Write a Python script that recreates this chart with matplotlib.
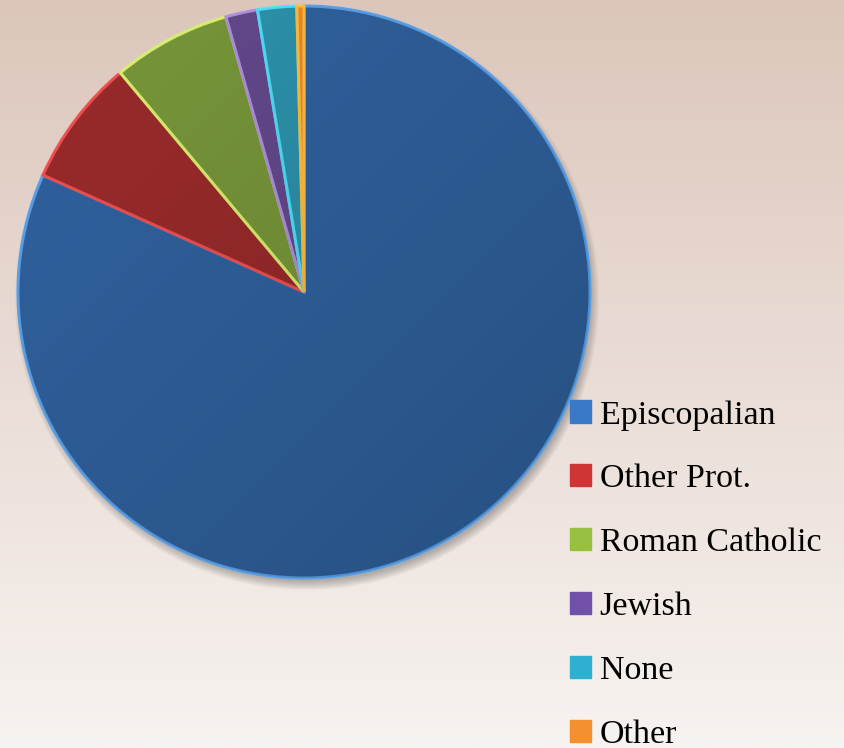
import numpy as np
import matplotlib.pyplot as plt
from matplotlib.patches import Patch, Circle

labels = ["Episcopalian", "Other Prot.", "Roman Catholic", "Jewish", "None", "Other"]
shares = [81.7, 7.2, 6.7, 1.8, 2.2, 0.4]

slice_colors = ["#30629f", "#9a2b2b", "#78973a", "#64498c", "#2d93ad", "#f08a2a"]
edge_colors = ["#5aa0e8", "#f05050", "#d8f070", "#b090e0", "#50e0f8", "#ffc040"]
legend_colors = ["#3a78c8", "#d03535", "#98c040", "#7050a8", "#30b0d0", "#f59030"]

W, H = 845, 748
fig = plt.figure(figsize=(W / 100, H / 100), dpi=100)
ax = fig.add_axes([0, 0, 1, 1])

# background gradient, pinkish top -> pale bottom
top = np.array([220, 198, 187]) / 255
bot = np.array([247, 243, 240]) / 255
t = np.linspace(0, 1, 256)[:, None]
grad = top * (1 - t) + bot * t
ax.imshow(grad[:, None, :].repeat(2, axis=1), extent=[0, W, 0, H], origin="upper",
          aspect="auto", zorder=0)

cx, cy, r = 304, H - 292, 286

# soft shadow under the pie
for k in range(10):
    ax.add_patch(Circle((cx + 3, cy - 6), r + 6 - k, color="black", alpha=0.028, lw=0, zorder=1))

wedges, _ = ax.pie(shares, colors=slice_colors, startangle=90, counterclock=False,
                   center=(cx, cy), radius=r, frame=True,
                   wedgeprops=dict(linewidth=2.2))
for w, ec in zip(wedges, edge_colors):
    w.set_edgecolor(ec)
    w.set_zorder(2)
ax.set_xlim(0, W)
ax.set_ylim(0, H)
ax.set_aspect("equal")
ax.axis("off")

# light shading over the pie
yy, xx = np.mgrid[0:1:200j, 0:1:200j]
shade = np.zeros((200, 200, 4))
shade[..., 3] = 0.18 * (xx + yy) / 2
clip = Circle((cx, cy), r, transform=ax.transData)
img = ax.imshow(shade, extent=[cx - r, cx + r, cy - r, cy + r], origin="upper", zorder=3)
img.set_clip_path(clip)

handles = [Patch(facecolor=c, edgecolor=c, label=l) for c, l in zip(legend_colors, labels)]
ax.legend(handles=handles, loc="upper left", bbox_to_anchor=(570 / W, 1 - 400 / H),
          frameon=False, prop=dict(family="Liberation Serif", size=24.5),
          handlelength=0.62, handleheight=0.62, handletextpad=0.25,
          labelspacing=0.98, borderpad=0, borderaxespad=0)

fig.savefig("out.png", dpi=100)
